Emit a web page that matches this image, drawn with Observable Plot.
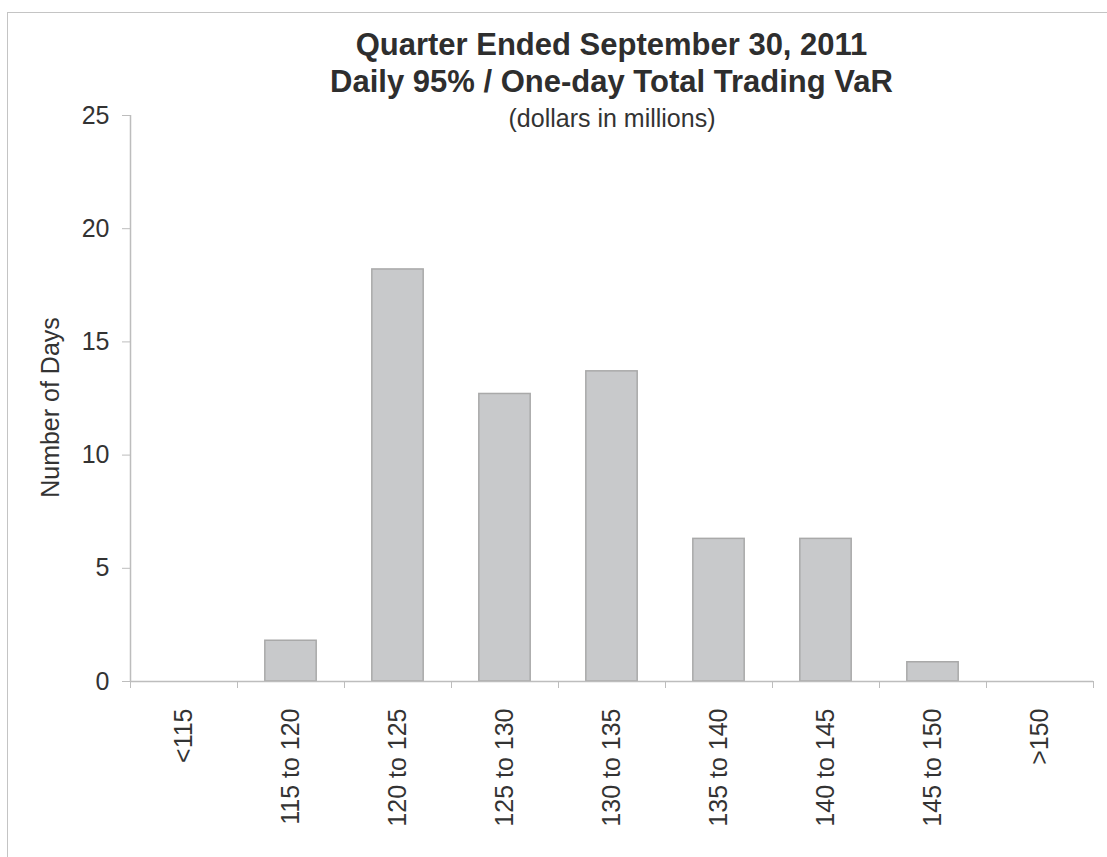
<!DOCTYPE html>
<html>
<head>
<meta charset="utf-8">
<script src="https://cdn.jsdelivr.net/npm/d3@7"></script>
<script src="https://cdn.jsdelivr.net/npm/@observablehq/plot@0.6"></script>
<style>
  html, body { margin: 0; padding: 0; background: #fff; overflow: hidden; }
  #wrap { position: relative; width: 1107px; height: 857px; font-family: "Liberation Sans", Arial, sans-serif; }
  #frame { position: absolute; left: 7px; top: 12px; width: 1300px; height: 1000px; border-left: 1.5px solid #c4c4c4; border-top: 1.5px solid #c4c4c4; pointer-events: none; }
  #title { height: 100px; box-sizing: border-box; padding: 26px 14px 0 130px; text-align: center; font-weight: bold; font-size: 31px; line-height: 37px; color: #2e2e2e; }
  #chart svg { display: block; }
</style>
</head>
<body>
<div id="wrap">
  <div id="frame"></div>
  <div id="title">Quarter Ended September 30, 2011<br>Daily 95% / One-day Total Trading VaR</div>
  <div id="chart"></div>
</div>
<script>
const categories = ["<115", "115 to 120", "120 to 125", "125 to 130", "130 to 135", "135 to 140", "140 to 145", "145 to 150", ">150"];
const days = [0, 1.8, 18.2, 12.7, 13.7, 6.3, 6.3, 0.85, 0];
const yTicks = [0, 5, 10, 15, 20, 25];
const subtitle = "(dollars in millions)";
const yLabel = "Number of Days";

const data = categories.map((c, i) => ({category: c, i, days: days[i]}));
const boundaries = d3.range(categories.length + 1);
const centers = categories.map((c, i) => i + 0.5);

const plot = Plot.plot({
  width: 1107,
  height: 757,
  marginLeft: 130,
  marginRight: 14,
  marginTop: 15,
  marginBottom: 176,
  style: {fontFamily: '"Liberation Sans", Arial, sans-serif', fontSize: "25px", color: "#333", background: "transparent"},
  x: {domain: [0, categories.length], axis: null},
  y: {domain: [0, 25], axis: null},
  marks: [
    Plot.rectY(data.filter(d => d.days > 0), {
      x1: d => d.i + 0.26, x2: d => d.i + 0.74, y1: 0, y2: "days",
      fill: "#c8c9cb", stroke: "#a9a9a9", strokeWidth: 1.5
    }),
    Plot.ruleY([0], {stroke: "#bdbdbd", strokeWidth: 1.5}),
    Plot.ruleX([0], {stroke: "#bdbdbd", strokeWidth: 1.5}),
    Plot.axisY({ticks: yTicks, tickSize: 8, tickPadding: 13, stroke: "#bdbdbd", fill: "#333", label: null}),
    Plot.axisX({ticks: boundaries, tickSize: 7, tickFormat: () => "", stroke: "#bdbdbd", label: null}),
    Plot.axisX({ticks: centers, tickSize: 0, tickPadding: 27, tickRotate: -90, tickFormat: v => categories[Math.floor(v)], fill: "#333", label: null}),
    Plot.text([subtitle], {frameAnchor: "top", dy: 3, lineAnchor: "middle", fontSize: 25, fill: "#333"}),
    Plot.text([yLabel], {frameAnchor: "left", textAnchor: "middle", lineAnchor: "middle", rotate: -90, dx: -80, dy: 9, fontSize: 25, fill: "#333"})
  ]
});
document.getElementById("chart").appendChild(plot);
</script>
</body>
</html>
